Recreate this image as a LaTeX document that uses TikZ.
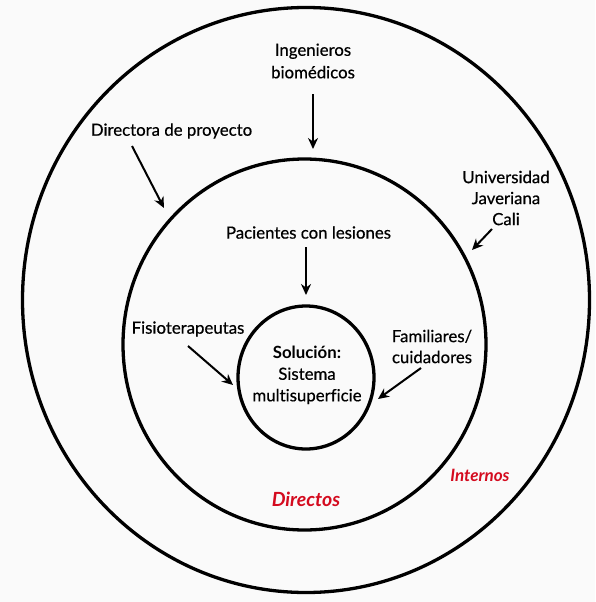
\documentclass[tikz,border=0pt]{standalone}
\usepackage{fontspec}
\setmainfont{Lato}[UprightFeatures={FakeBold=0.5}, Ligatures=NoCommon]
\usetikzlibrary{shapes.geometric,arrows.meta}
\definecolor{lblred}{RGB}{212,10,30}
\definecolor{bgcol}{RGB}{250,250,250}
\begin{document}
\begin{tikzpicture}[x=1pt,y=-1pt,
  ring/.style={draw, line width=3.3pt, ellipse, inner sep=0pt},
  lbl/.style={font=\fontsize{16.8}{22.5}\selectfont, align=center, inner sep=1pt},
  tag/.style={font=\fontsize{19}{22}\selectfont\bfseries\itshape, text=lblred, inner sep=1pt},
  arr/.style={-{Stealth[length=11pt,width=10pt]}, line width=2pt}]
\fill[bgcol] (0,0) rectangle (595,602);
\useasboundingbox (0,0) rectangle (595,602);

\node[ring, minimum width=567pt, minimum height=585pt] (outer) at (306,300) {};
\node[ring, minimum width=363pt, minimum height=371pt] (mid) at (304.5,344.5) {};
\node[ring, minimum width=136pt, minimum height=143pt] (sol) at (306,377.5) {};

\node[lbl, font=\fontsize{16.8}{21.5}\selectfont] (soltxt) at (307,375) {\textbf{Solución:}\\Sistema\\multisuperficie};

\node[lbl] (ing) at (313,61) {Ingenieros\\biomédicos};
\node[lbl] (dir) at (171.5,131) {Directora de proyecto};
\node[lbl, font=\fontsize{16.8}{21}\selectfont] (uni) at (506,198) {Universidad\\Javeriana\\Cali};
\node[lbl] (pac) at (308.5,232.5) {Pacientes con lesiones};
\node[lbl] (fis) at (188,329) {Fisioterapeutas};
\node[lbl, font=\fontsize{16.8}{21}\selectfont] (fam) at (432,346.5) {Familiares/\\cuidadores};

\node[tag, font=\fontsize{19.5}{22}\selectfont\bfseries\itshape] (directos) at (306,499) {Directos};
\node[tag, font=\fontsize{17}{20}\selectfont\bfseries\itshape] (internos) at (480,475) {Internos};

\coordinate (ingT) at (313,94);   \coordinate (ingH) at (313,149);
\coordinate (dirT) at (132,146);  \coordinate (dirH) at (164,208);
\coordinate (uniT) at (492,229);  \coordinate (uniH) at (472,250);
\coordinate (pacT) at (306,247);  \coordinate (pacH) at (306,295);
\coordinate (fisT) at (188,346);  \coordinate (fisH) at (233,385);
\coordinate (famT) at (421,368);  \coordinate (famH) at (378,399);

\draw[arr] (ingT) -- (ingH);
\draw[arr] (dirT) -- (dirH);
\draw[arr] (uniT) -- (uniH);
\draw[arr] (pacT) -- (pacH);
\draw[arr] (fisT) -- (fisH);
\draw[arr] (famT) -- (famH);
\end{tikzpicture}
\end{document}
